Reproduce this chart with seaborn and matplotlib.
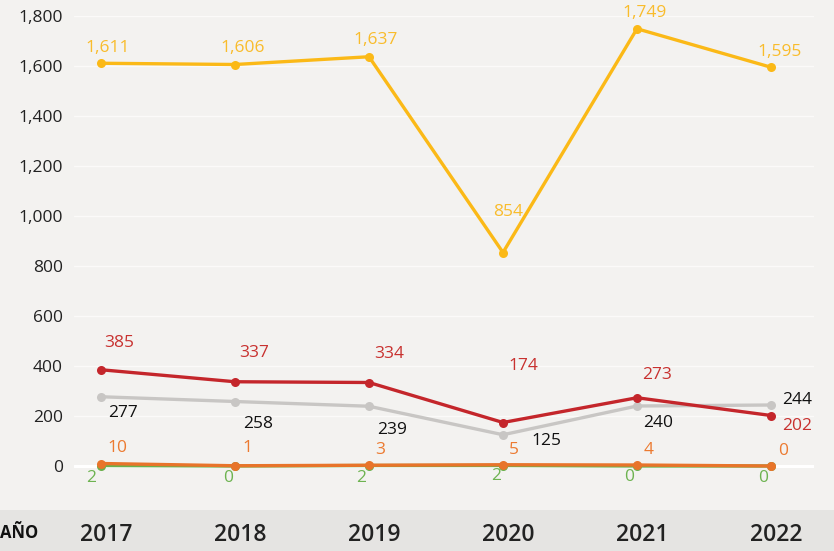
import matplotlib
matplotlib.use("Agg")
import matplotlib.pyplot as plt
import matplotlib.transforms as mtransforms
import seaborn as sns
import pandas as pd

years = ["2017", "2018", "2019", "2020", "2021", "2022"]
serie_amarilla = [1611, 1606, 1637, 854, 1749, 1595]
serie_roja = [385, 337, 334, 174, 273, 202]
serie_gris = [277, 258, 239, 125, 240, 244]
serie_naranja = [10, 1, 3, 5, 4, 0]
serie_verde = [2, 0, 2, 2, 0, 0]

series = {
    "verde": serie_verde,
    "gris": serie_gris,
    "roja": serie_roja,
    "naranja": serie_naranja,
    "amarilla": serie_amarilla,
}
colors = {
    "amarilla": "#FBB917",
    "roja": "#C4262B",
    "gris": "#C8C6C4",
    "naranja": "#E8742A",
    "verde": "#6AB04C",
}
label_colors = {
    "amarilla": "#F9BC2C",
    "roja": "#C8312F",
    "gris": "#111111",
    "naranja": "#EC7A30",
    "verde": "#6DB350",
}
# label offsets in pixels (dx, dy)
offsets = {
    "amarilla": [(7, 15), (8, 16), (7, 17), (5, 40), (8, 16), (9, 15)],
    "roja": [(18, 27), (19, 29), (20, 28), (20, 57), (20, 23), (26, -10)],
    "gris": [(22, -16), (23, -22), (23, -24), (43, -6), (21, -17), (26, 5)],
    "naranja": [(16, 15), (12, 18), (11, 15), (11, 15), (12, 15), (12, 15)],
    "verde": [(-10, -12), (-7, -12), (-8, -12), (-7, -11), (-8, -11), (-8, -12)],
}

rows = []
for name, vals in series.items():
    for i, v in enumerate(vals):
        rows.append({"x": i, "valor": v, "serie": name})
df = pd.DataFrame(rows)

sns.set_theme(style="white")
plt.rcParams["font.family"] = ["Open Sans", "DejaVu Sans"]

bg = "#F3F2F0"
fig = plt.figure(figsize=(8.34, 5.51), dpi=100, facecolor=bg)
ax = fig.add_axes([74 / 834, 1 - 498.5 / 551, (814 - 74) / 834, (498.5 - 16) / 551])
ax.set_facecolor(bg)

# band at bottom
band = plt.Rectangle((0, 0), 1, 41 / 551, transform=fig.transFigure,
                     facecolor="#E5E4E2", edgecolor="none", zorder=-5)
fig.patches.append(band)

ax.set_xlim(-27 / 134, 5 + 43 / 134)
ax.set_ylim(-130, 1800)
ax.set_yticks(range(0, 1801, 200))
ax.set_yticklabels([f"{v:,}" for v in range(0, 1801, 200)], fontsize=12.5, color="#222222")
ax.tick_params(axis="y", length=0, pad=8)
ax.set_xticks([])
for y in range(200, 1801, 200):
    ax.axhline(y, color="#FBFAF9", lw=1.0, zorder=0.5)
ax.axhline(0, color="white", lw=2.2, zorder=0.5)
for s in ax.spines.values():
    s.set_visible(False)

sns.lineplot(data=df, x="x", y="valor", hue="serie", hue_order=list(series.keys()),
             palette=colors, marker="o", markersize=6.5, markeredgewidth=0,
             linewidth=2.4, legend=False, ax=ax, zorder=3)
ax.set_xlabel("")
ax.set_ylabel("")

for name, vals in series.items():
    for i, v in enumerate(vals):
        dx, dy = offsets[name][i]
        ax.annotate(f"{v:,}", (i, v), xytext=(dx, dy), textcoords="offset pixels",
                    ha="center", va="center", fontsize=12.5,
                    color=label_colors[name], zorder=5)

trans = mtransforms.blended_transform_factory(ax.transData, fig.transFigure)
for i, yr in enumerate(years):
    ax.annotate(yr, (i, 16 / 551), xycoords=trans, xytext=(5, 0),
                textcoords="offset pixels", ha="center", va="center",
                fontsize=16.5, fontweight="semibold", color="#222222",
                annotation_clip=False, zorder=10)
fig.text(0.5 / 834, 18 / 551, "AÑO", ha="left", va="center", fontsize=12,
         fontweight="bold", color="#111111")

fig.savefig("out.png", dpi=100, facecolor=bg)
